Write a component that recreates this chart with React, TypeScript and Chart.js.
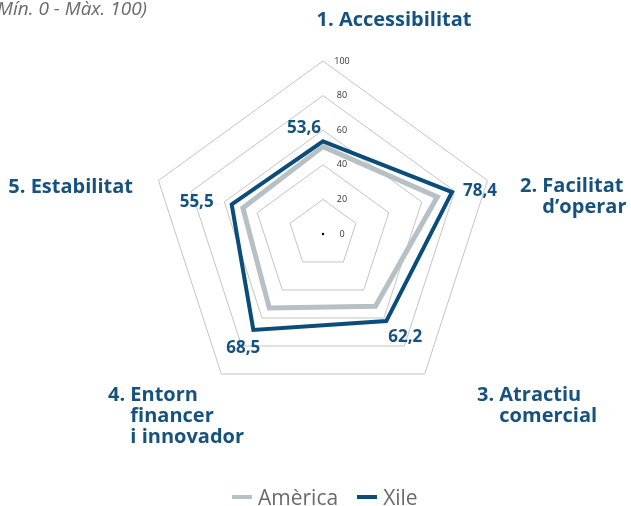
import React, { useEffect, useRef } from "react";
import { Chart, registerables } from "chart.js";
Chart.register(...registerables);

const categories: string[][] = [
  ["1. Accessibilitat"],
  ["2. Facilitat", "d’operar"],
  ["3. Atractiu", "comercial"],
  ["4. Entorn", "financer", "i innovador"],
  ["5. Estabilitat"],
];
const categoryPrefixes = ["1. ", "2. ", "3. ", "4. ", "5. "];
const seriesNames = ["Amèrica", "Xile"];
const americaValues = [50.5, 69.5, 51.6, 52.8, 48.7];
const xileValues = [53.6, 78.4, 62.2, 68.5, 55.5];
const tickValues = [0, 20, 40, 60, 80, 100];
const subtitleText = "(Mín. 0 - Màx. 100)";

const GREY = "#b6c1c6";
const BLUE = "#0b4d7a";
const LABEL = "#16527f";
const FONT = "'Open Sans', 'Noto Sans', sans-serif";

// layout of category labels relative to the outer vertex
const catLayout = [
  { align: "center", dx: 71, dy: -41 },
  { align: "left", dx: 32.5, dy: 5.5 },
  { align: "left", dx: 52.3, dy: 21 },
  { align: "left", dx: -113.3, dy: 21 },
  { align: "right", dx: -25.5, dy: 6.5 },
];
// layout of value labels relative to the Xile point
const valLayout = [
  { align: "center", dx: -19, dy: -13 },
  { align: "left", dx: 11, dy: -1 },
  { align: "left", dx: 2, dy: 16 },
  { align: "right", dx: 7, dy: 18 },
  { align: "right", dx: -18, dy: -2 },
];

const overlayPlugin = {
  id: "overlay",
  afterDraw(chart: any) {
    const ctx = chart.ctx;
    const scale = chart.scales.r;
    ctx.save();
    // center dot
    ctx.fillStyle = "#000";
    ctx.beginPath();
    ctx.arc(scale.xCenter, scale.yCenter, 1.2, 0, Math.PI * 2);
    ctx.fill();
    // tick labels
    ctx.font = `9px ${FONT}`;
    ctx.fillStyle = "#333";
    ctx.textAlign = "center";
    ctx.textBaseline = "middle";
    tickValues.forEach((v) => {
      const d = scale.getDistanceFromCenterForValue(v);
      ctx.fillText(String(v), scale.xCenter + 19, scale.yCenter - d);
    });
    // category labels
    ctx.font = `bold 20px ${FONT}`;
    ctx.fillStyle = LABEL;
    categories.forEach((lines, i) => {
      const p = scale.getPointPosition(i, scale.drawingArea);
      const L = catLayout[i];
      const indent = ctx.measureText(categoryPrefixes[i]).width;
      lines.forEach((line, j) => {
        ctx.textAlign = L.align;
        const x = p.x + L.dx + (j > 0 ? indent : 0);
        ctx.fillText(line, x, p.y + L.dy + j * 21);
      });
    });
    // value labels
    ctx.font = `bold 17px ${FONT}`;
    xileValues.forEach((v, i) => {
      const p = scale.getPointPosition(i, scale.getDistanceFromCenterForValue(v));
      const L = valLayout[i];
      ctx.textAlign = L.align;
      ctx.fillText(v.toFixed(1).replace(".", ","), p.x + L.dx, p.y + L.dy);
    });
    ctx.restore();
  },
};

export default function App() {
  const ref = useRef<HTMLCanvasElement>(null);
  useEffect(() => {
    const chart = new Chart(ref.current!, {
      type: "radar",
      data: {
        labels: categories.map((c) => c.join(" ")),
        datasets: [
          {
            label: seriesNames[0],
            data: americaValues,
            borderColor: GREY,
            backgroundColor: "transparent",
            borderWidth: 5,
            pointRadius: 0,
            fill: false,
          },
          {
            label: seriesNames[1],
            data: xileValues,
            borderColor: BLUE,
            backgroundColor: "transparent",
            borderWidth: 4,
            pointRadius: 0,
            fill: false,
          },
        ],
      },
      options: {
        animation: false,
        responsive: false,
        layout: { padding: { left: 150, right: 135, top: 61, bottom: 99 } },
        plugins: { legend: { display: false }, tooltip: { enabled: false } },
        elements: { line: { tension: 0, borderJoinStyle: "miter" } },
        scales: {
          r: {
            min: 0,
            max: 100,
            ticks: { stepSize: 20, display: false },
            grid: { color: "#c4c4c4", lineWidth: 1 },
            angleLines: { display: false },
            pointLabels: { display: false },
          },
        },
      },
      plugins: [overlayPlugin],
    } as any);
    return () => chart.destroy();
  }, []);

  const legendItem = (name: string, color: string) => (
    <div style={{ display: "flex", alignItems: "center", marginRight: 19 }}>
      <div style={{ width: 20, height: 4, background: color, marginRight: 6 }} />
      <span>{name}</span>
    </div>
  );

  return (
    <div style={{ position: "fixed", left: 0, top: 0, width: 631, height: 506, background: "#fff", overflow: "hidden" }}>
      <canvas ref={ref} width={631} height={506} style={{ position: "absolute", left: 0, top: 0 }} />
      <div
        style={{
          position: "absolute",
          right: 631 - 147,
          top: -5,
          whiteSpace: "nowrap",
          font: `italic 19px ${FONT}`,
          color: "#6a6a6a",
        }}
      >
        {subtitleText}
      </div>
      <div
        style={{
          position: "absolute",
          left: 232,
          top: 484,
          display: "flex",
          font: `21px ${FONT}`,
          color: "#6a6a6a",
          lineHeight: "26px",
        }}
      >
        {legendItem(seriesNames[0], GREY)}
        {legendItem(seriesNames[1], BLUE)}
      </div>
    </div>
  );
}
